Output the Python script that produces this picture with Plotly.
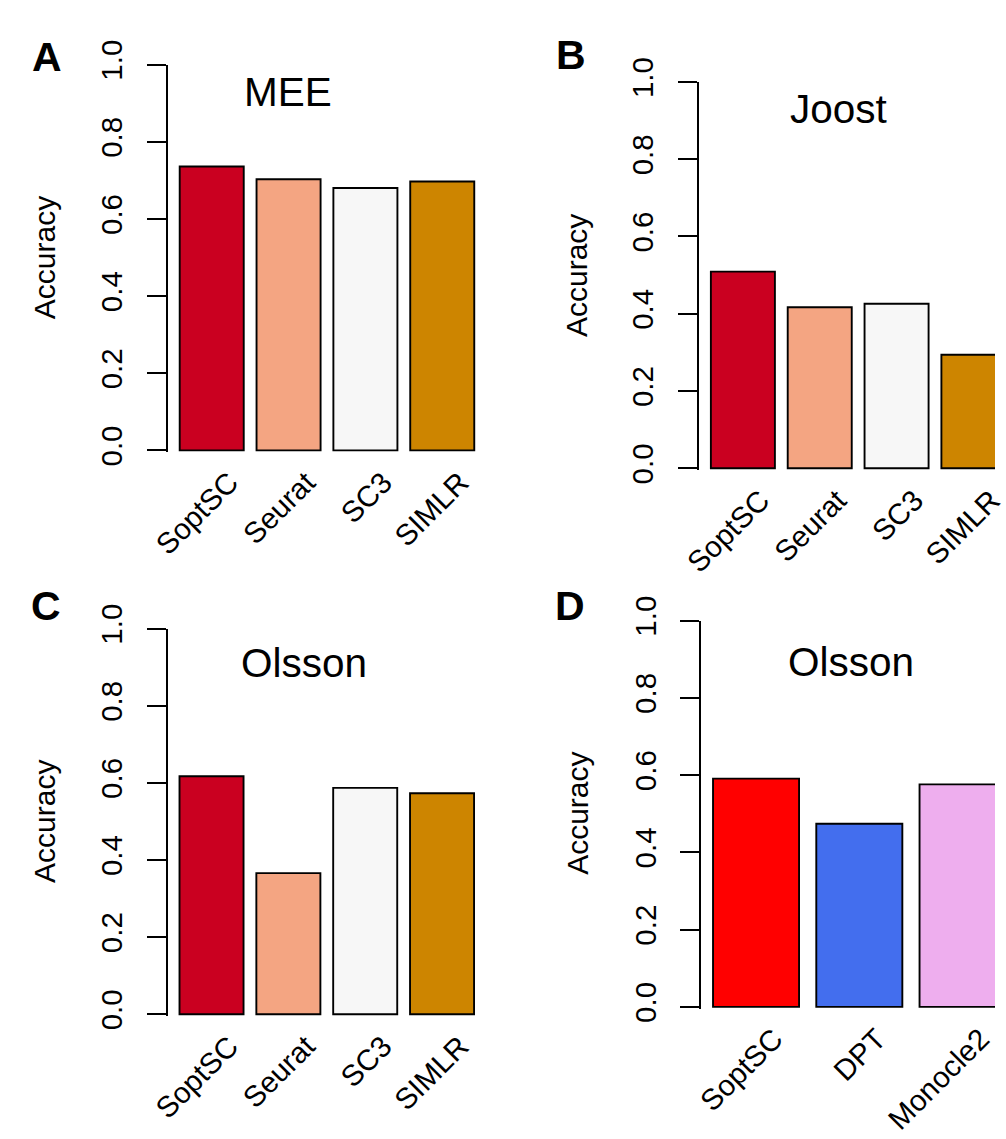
import plotly.graph_objects as go

W, H = 1006, 1139
FONT = "Liberation Sans, Arial, Helvetica, sans-serif"

# ---------------- data ----------------
methods_abc = ["SoptSC", "Seurat", "SC3", "SIMLR"]
colors_abc = ["#CA0020", "#F4A582", "#F7F7F7", "#CD8500"]
acc_mee = [0.736, 0.703, 0.680, 0.697]
acc_joost = [0.509, 0.417, 0.426, 0.294]
acc_olsson_cluster = [0.617, 0.366, 0.587, 0.573]

methods_d = ["SoptSC", "DPT", "Monocle2"]
colors_d = ["#FF0000", "#436EEE", "#EEAEEE"]
acc_olsson_pseudo = [0.591, 0.474, 0.576]

y_ticks = [0.0, 0.2, 0.4, 0.6, 0.8, 1.0]
y_ticktext = ["0.0", "0.2", "0.4", "0.6", "0.8", "1.0"]

panels = [
    dict(letter="A", title="MEE", cats=methods_abc, vals=acc_mee, cols=colors_abc,
         left=153.5, right=481.4, top=41.0, bottom=440.5, xr=[-0.57, 3.57],
         title_xy=(277, 69), letter_xy=(28.5, 33)),
    dict(letter="B", title="Joost", cats=methods_abc, vals=acc_joost, cols=colors_abc,
         left=701.0, right=1006.0, top=59.0, bottom=459.0, xr=[-0.57, 3.281],
         title_xy=(845, 87), letter_xy=(569, 31)),
    dict(letter="C", title="Olsson", cats=methods_abc, vals=acc_olsson_cluster, cols=colors_abc,
         left=153.3, right=481.2, top=625.0, bottom=1024.3, xr=[-0.57, 3.57],
         title_xy=(294, 661), letter_xy=(28, 602)),
    dict(letter="D", title="Olsson", cats=methods_d, vals=acc_olsson_pseudo, cols=colors_d,
         left=703.3, right=1006.0, top=616.7, bottom=1016.7, xr=[-0.53, 2.314],
         title_xy=(857.5, 660), letter_xy=(568, 602)),
]

YLO = -0.005

fig = go.Figure()
annotations = []
for i, p in enumerate(panels, start=1):
    xa = "x" if i == 1 else f"x{i}"
    ya = "y" if i == 1 else f"y{i}"
    fig.add_trace(go.Bar(
        x=p["cats"], y=p["vals"], xaxis=xa, yaxis=ya,
        marker=dict(color=p["cols"], line=dict(color="black", width=1.9)),
        showlegend=False, hoverinfo="skip",
    ))
    span = p["bottom"] - p["top"]
    bot = p["bottom"] + (-YLO) * span
    xkey = "xaxis" if i == 1 else f"xaxis{i}"
    ykey = "yaxis" if i == 1 else f"yaxis{i}"
    fig.update_layout(**{
        xkey: dict(
            domain=[p["left"] / W, min(p["right"] / W, 1.0)],
            type="category", range=p["xr"], anchor=ya,
            showline=False, ticks="", showgrid=False, zeroline=False,
            tickangle=-45, tickfont=dict(family=FONT, size=29.5, color="black"),
            ticklabelstandoff=6, ticklabelshift=18, fixedrange=True,
        ),
        ykey: dict(
            domain=[1 - bot / H, 1 - p["top"] / H],
            range=[YLO, 1.0], anchor=xa,
            showline=True, linecolor="black", linewidth=1.8,
            ticks="outside", ticklen=19, tickwidth=1.8, tickcolor="black",
            tickvals=y_ticks, ticktext=y_ticktext, tickangle=-90,
            tickfont=dict(family=FONT, size=29.5, color="black"),
            showgrid=False, zeroline=False, fixedrange=True,
            ticklabelstandoff=13,
        ),
    })
    annotations.append(dict(
        text=p["title"], xref="paper", yref="paper",
        x=p["title_xy"][0] / W, y=1 - p["title_xy"][1] / H,
        xanchor="center", yanchor="middle", showarrow=False,
        font=dict(family=FONT, size=40.5, color="black"),
    ))
    annotations.append(dict(
        text="<b>" + p["letter"] + "</b>", xref="paper", yref="paper",
        x=p["letter_xy"][0] / W, y=1 - p["letter_xy"][1] / H,
        xanchor="center", yanchor="middle", showarrow=False,
        font=dict(family=FONT, size=41, color="black"),
    ))
    annotations.append(dict(
        text="Accuracy", xref="paper", yref="paper",
        x=(p["left"] - 127) / W, y=1 - ((p["top"] + p["bottom"]) / 2) / H,
        xanchor="center", yanchor="middle", showarrow=False, textangle=-90,
        font=dict(family=FONT, size=30, color="black"),
    ))

fig.update_layout(
    width=W, height=H, autosize=False,
    margin=dict(l=0, r=0, t=0, b=0, pad=0),
    paper_bgcolor="white", plot_bgcolor="white",
    bargap=1 / 6,
    annotations=annotations,
)

fig.write_html(
    "out.html", include_plotlyjs=True, config={"displayModeBar": False},
    post_script="document.documentElement.style.margin='0';"
                "document.body.style.margin='0';document.body.style.padding='0';"
                "document.body.style.overflow='hidden';",
)
